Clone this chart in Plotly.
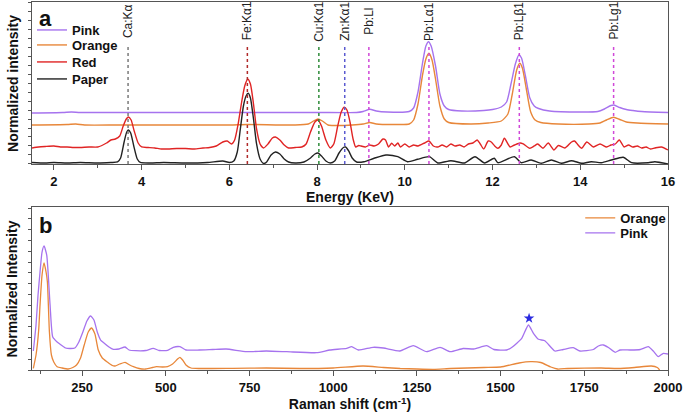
import plotly.graph_objects as go

# ---------------- Panel a : XRF spectra (energy keV, normalized intensity) ----------------
pink_E = [1.5, 2.2, 2.4, 2.6, 3.7, 6.4, 8.0, 8.9, 9.05, 9.2, 9.35, 9.6, 10.1, 10.2, 10.3, 10.4, 10.48, 10.54,
          10.6, 10.7, 10.8, 10.9, 11.0, 11.3, 11.8, 12.0, 12.2, 12.32, 12.42, 12.52, 12.6, 12.66, 12.75, 12.85,
          12.95, 13.05, 13.3, 14.0, 14.4, 14.55, 14.7, 14.77, 14.9, 15.05, 15.2, 15.4, 16.0]
pink_I = [51, 51.5, 52, 51.5, 51.5, 51.5, 51.5, 51.5, 52.5, 54.7, 53, 52, 52.5, 56, 72, 100, 118, 122.3,
          118, 98, 70, 58, 54.5, 53, 53.5, 54.5, 57, 62, 80, 100, 109, 106, 88, 66,
          58, 55.5, 53, 52, 52.5, 55, 58.5, 59, 56.5, 54.5, 53.5, 52.5, 51.5]

orange_E = [1.5, 2.3, 2.5, 2.7, 3.5, 6.0, 6.4, 7.5, 7.8, 7.92, 8.02, 8.12, 8.25, 8.4, 8.8, 9.05, 9.2, 9.35,
            9.8, 10.1, 10.2, 10.3, 10.4, 10.48, 10.55, 10.62, 10.7, 10.8, 10.9, 11.0, 11.5, 11.9, 12.2, 12.35,
            12.45, 12.55, 12.62, 12.68, 12.77, 12.87, 12.97, 13.1, 13.5, 14.2, 14.45, 14.6, 14.76, 14.9, 15.05,
            15.3, 16.0]
orange_I = [39, 39.5, 40, 39, 39, 39, 39.5, 39, 40, 43, 45, 43, 39, 38.5, 39, 40, 41.5, 40,
            39.5, 40, 44, 60, 88, 105, 110.7, 104, 85, 58, 45, 41.5, 40, 41, 43, 50,
            70, 94, 100.7, 96, 75, 52, 44, 41.5, 40, 40, 41, 44, 46.7, 44.5, 42,
            41, 40]

red_E = [1.5, 1.65, 1.8, 2.0, 2.15, 2.3, 2.45, 2.6, 2.8, 3.0, 3.2, 3.3, 3.4, 3.5, 3.58, 3.65, 3.7, 3.76, 3.83,
         3.92, 4.0, 4.15, 4.3, 4.45, 4.6, 4.8, 5.0, 5.2, 5.4, 5.55, 5.7, 5.85, 5.95, 6.05, 6.12, 6.2, 6.28,
         6.35, 6.42, 6.48, 6.55, 6.62, 6.7, 6.78, 6.88, 6.98, 7.05, 7.15, 7.25, 7.35, 7.5, 7.65, 7.75, 7.85,
         7.95, 8.02, 8.1, 8.2, 8.3, 8.38, 8.47, 8.55, 8.62, 8.68, 8.75, 8.82, 8.88, 8.95, 9.0, 9.1, 9.2,
         9.3, 9.4, 9.5, 9.56, 9.63, 9.7, 9.77, 9.84, 9.9, 10.0, 10.1, 10.2, 10.3, 10.45, 10.55, 10.65, 10.75,
         10.85, 10.95, 11.05, 11.15, 11.25, 11.35, 11.45, 11.55, 11.65, 11.72, 11.8, 11.9, 11.97, 12.05,
         12.12, 12.2, 12.27, 12.4, 12.5, 12.63, 12.7, 12.85, 12.95, 13.03, 13.15, 13.27, 13.4, 13.5, 13.65,
         13.8, 13.87, 13.95, 14.03, 14.15, 14.3, 14.45, 14.6, 14.7, 14.8, 14.89, 15.0, 15.1, 15.2, 15.3,
         15.4, 15.5, 15.6, 15.7, 15.85, 16.0]
red_I = [16, 17, 17.5, 18, 17, 17, 16.5, 16.5, 17, 17, 21, 24, 25, 28, 38, 45, 47, 44, 33,
         21, 17, 16.5, 16, 15, 15, 15.5, 15.5, 15, 16, 16.5, 18, 22, 23, 20, 24, 40, 62,
         78, 84.7, 80, 60, 35, 20, 16, 20, 26, 27, 24, 19, 16, 16.5, 17, 20, 32,
         42, 44, 38, 24, 16, 20, 38, 52, 56.7, 54, 42, 25, 17, 18.5, 18, 17, 19,
         18, 20, 25, 24, 17, 20.7, 18, 21, 17, 20, 17, 19, 18, 21, 23, 18, 17,
         19, 17, 20, 18, 19, 17, 20, 21, 24, 20, 15, 23, 22, 18,
         15.7, 19, 25.7, 17, 19, 21, 20, 15.7, 18, 20, 15.7, 21, 14, 18.5, 16,
         22, 23, 19, 15.7, 22, 17, 20, 17, 19, 20, 24, 17, 19, 17, 18,
         16, 17, 15, 16, 17, 14]

paper_E = [1.5, 1.8, 2.0, 2.3, 2.6, 3.0, 3.3, 3.45, 3.52, 3.6, 3.66, 3.7, 3.75, 3.82, 3.9, 3.97, 4.2, 4.5,
           5.0, 5.5, 5.85, 6.0, 6.1, 6.18, 6.25, 6.32, 6.38, 6.43, 6.48, 6.55, 6.62, 6.7, 6.78, 6.85, 6.95,
           7.05, 7.15, 7.25, 7.35, 7.5, 7.7, 7.85, 7.95, 8.02, 8.1, 8.2, 8.3, 8.4, 8.5, 8.6, 8.65, 8.72, 8.8,
           8.9, 9.07, 9.3, 9.57, 9.84, 10.06, 10.29, 10.56, 10.75, 11.05, 11.36, 11.6, 11.82, 12.04, 12.12,
           12.5, 12.65, 12.88, 13.11, 13.34, 13.57, 13.8, 14.03, 14.25, 14.48, 14.71, 14.98, 15.17, 15.55,
           15.7, 16.0]
paper_I = [1.5, 1, 1.5, 1, 1.5, 1, 1.5, 2, 6, 22, 32, 34, 31, 18, 5, 1.5, 1, 1.5,
           1, 1.5, 3, 1.5, 3, 12, 35, 58, 68, 70.7, 66, 45, 20, 5, 0.5, 2, 9,
           12, 10, 5, 2, 1, 2, 6, 10, 11, 8, 3, 1, 3, 11, 16.5, 17, 13, 6,
           2, 2.3, 5.7, 9, 7.3, 2.3, 4.7, 7.3, 1, 3.3, 1, 7.3, 1, 5.7, 1.3,
           7.3, 1.3, 4, 0.7, 4, 0.7, 3.3, 0.7, 2.3, 1.3, 4, 6.7, 1.3, 1.3,
           2.3, 0]

line_labels = ["Ca:K\u03b1", "Fe:K\u03b11", "Cu:K\u03b11", "Zn:K\u03b11", "Pb:Ll", "Pb:L\u03b11", "Pb:L\u03b21", "Pb:Lg1"]
line_energies = [3.69, 6.41, 8.04, 8.63, 9.18, 10.55, 12.61, 14.76]
line_colors = ["#7a7a7a", "#b02a2a", "#2e8b3a", "#5a5ad0", "#d048d8", "#d048d8", "#d048d8", "#d048d8"]
line_top = 119
label_y = 143

# ---------------- Panel b : Raman spectra ----------------
r_pink_x = [104, 112, 118, 124, 130, 136, 144, 154, 162, 175, 184, 200, 215, 228, 240, 252, 264, 275, 285,
            295, 305, 315, 330, 343, 360, 378, 390, 410, 440, 462, 480, 505, 522, 542, 560, 600, 640, 680,
            741, 800, 861, 950, 990, 1040, 1055, 1075, 1119, 1150, 1199, 1239, 1279, 1319, 1350, 1388, 1420,
            1458, 1480, 1518, 1535, 1563, 1583, 1598, 1613, 1632, 1662, 1687, 1717, 1737, 1777, 1792, 1807,
            1822, 1842, 1857, 1887, 1917, 1941, 1956, 1971, 1986, 2000]
r_pink_y = [19, 45, 75, 98, 118, 124, 115, 65, 33, 28, 25.7, 22, 21.5, 22, 28, 38, 49, 54, 50,
            38, 30, 27, 23, 20.7, 21, 23, 20, 19.3, 19.5, 21.7, 19.5, 19.7, 22.7, 23.3, 20, 20, 20.5, 21,
            18.3, 19, 18.3, 17.3, 20, 21.7, 23.3, 20, 22.7, 22, 19, 24.3, 18.3, 22.7, 18.3, 21.5, 21,
            24.3, 20.5, 20, 23, 31.7, 45, 36.7, 30.7, 29.3, 19, 20.5, 22.3, 19, 20.5, 24, 25,
            22.5, 17.7, 20, 20, 20.5, 23.3, 19, 13.3, 16.7, 16]

r_orange_x = [104, 112, 120, 124, 130, 136, 142, 146, 152, 158, 165, 175, 190, 208, 222, 233, 245, 256, 268,
              278, 288, 298, 310, 325, 340, 348, 362, 378, 392, 403, 420, 440, 460, 472, 490, 505, 520, 535,
              542, 550, 560, 575, 600, 700, 800, 900, 1000, 1089, 1150, 1200, 1250, 1300, 1350, 1450, 1500,
              1555, 1590, 1620, 1650, 1670, 1700, 1800, 1850, 1900, 1950, 1968, 1975]
r_orange_y = [1.7, 15, 40, 65, 95, 107, 98, 88, 38, 15, 8, 3.3, 2, 1, 2.5, 5, 12, 25, 38,
              42, 36, 20, 12, 8, 4.5, 4, 6, 7.7, 5, 3.3, 1.5, 1, 2.5, 3.3, 3, 3.5, 6, 11,
              12.7, 10, 5, 2, 1.5, 1.7, 2, 1.5, 2, 4, 2.5, 1.5, 1, 0.7, 1.5, 2.5, 3,
              7, 8.3, 7.5, 3, 1, 1.5, 2, 1.5, 2.5, 4, 2.5, 0]

star_x = [1585]
star_y = [51.7]

# ---------------- Figure ----------------
PINK = "#a673ee"
ORANGE = "#e8873a"
RED = "#e02424"
BLACK = "#222222"
FONT = "Liberation Sans, Arial, sans-serif"
legfont = dict(family=FONT, size=13, color="#111", weight="bold")

fig = go.Figure()
top_series = [("Pink", pink_E, pink_I, PINK, "legend"), ("Orange", orange_E, orange_I, ORANGE, "legend3"),
              ("Red", red_E, red_I, RED, "legend4"), ("Paper", paper_E, paper_I, BLACK, "legend5")]
for name, xs, ys, col, leg in top_series:
    fig.add_trace(go.Scatter(x=xs, y=ys, name=name, mode="lines",
                             line=dict(color=col, width=1.4, shape="spline", smoothing=0.6),
                             xaxis="x", yaxis="y", legend=leg))

fig.add_trace(go.Scatter(x=r_orange_x, y=r_orange_y, name="Orange", mode="lines", line=dict(color=ORANGE, width=1.3, shape="spline", smoothing=0.5), xaxis="x2", yaxis="y2", legend="legend2"))
fig.add_trace(go.Scatter(x=r_pink_x, y=r_pink_y, name="Pink", mode="lines", line=dict(color=PINK, width=1.3, shape="spline", smoothing=0.5), xaxis="x2", yaxis="y2", legend="legend6"))
fig.add_trace(go.Scatter(x=star_x, y=star_y, mode="markers", showlegend=False, marker=dict(symbol="star", size=8, color="#2a2ae0"), xaxis="x2", yaxis="y2"))

for lab, e, c in zip(line_labels, line_energies, line_colors):
    fig.add_shape(type="line", xref="x", yref="y", x0=e, x1=e, y0=0, y1=line_top,
                  line=dict(color=c, width=1.5, dash="dot"), layer="above")
    fig.add_annotation(x=e, y=label_y, xref="x", yref="y", text=lab, textangle=-90, showarrow=False,
                       xanchor="center", yanchor="middle", font=dict(family=FONT, size=12, color="#222"))

fig.add_annotation(text="a", xref="paper", yref="paper", x=0.008, y=0.995, xanchor="left", yanchor="top",
                   showarrow=False, font=dict(family=FONT, size=22, color="#111", weight="bold"))
fig.add_annotation(text="b", xref="paper", yref="paper", x=0.008, y=0.432, xanchor="left", yanchor="top",
                   showarrow=False, font=dict(family=FONT, size=22, color="#111", weight="bold"))
fig.add_annotation(text="Normalized intensity", xref="paper", yref="paper", x=-0.0299, y=0.7799,
                   xanchor="center", yanchor="middle", textangle=-90, showarrow=False,
                   font=dict(family=FONT, size=14, color="#111", weight="bold"))
fig.add_annotation(text="Normalized Intensity", xref="paper", yref="paper", x=-0.0299, y=0.2215,
                   xanchor="center", yanchor="middle", textangle=-90, showarrow=False,
                   font=dict(family=FONT, size=14, color="#111", weight="bold"))

axis_common = dict(showline=True, linecolor="#555", linewidth=1, mirror=True, showgrid=False, zeroline=False,
                   ticks="outside", tickcolor="#555")
tickfont = dict(family=FONT, size=13, color="#111", weight="bold")
titlefont = dict(family=FONT, size=14, color="#111", weight="bold")

def leg(x, y):
    return dict(x=x, y=y, xanchor="left", yanchor="middle", bgcolor="rgba(0,0,0,0)", font=legfont,
                itemwidth=30, borderwidth=0)

top_leg_x = 0.0
bot_leg_x = 0.862
fig.update_layout(
    width=685, height=417,
    margin=dict(l=32, r=17, t=2, b=47),
    paper_bgcolor="white", plot_bgcolor="white",
    xaxis=dict(domain=[0, 1], anchor="y", range=[1.5, 16], tick0=0, dtick=2, ticklen=5,
               minor=dict(dtick=1, ticklen=3, ticks="outside", tickcolor="#555"),
               tickfont=tickfont, title=dict(text="Energy (KeV)", font=titlefont, standoff=4), **axis_common),
    yaxis=dict(domain=[0.5598, 1], anchor="x", range=[0, 162], tick0=0, dtick=9, ticklen=3,
               showticklabels=False, **axis_common),
    xaxis2=dict(domain=[0, 1], anchor="y2", range=[100, 2000], tick0=0, dtick=250, ticklen=5,
                minor=dict(dtick=125, ticklen=3, ticks="outside", tickcolor="#555"),
                tickfont=tickfont, title=dict(text="Raman shift (cm<sup>-1</sup>)", font=titlefont, standoff=4), **axis_common),
    yaxis2=dict(domain=[0, 0.4429], anchor="x2", range=[0, 163], tick0=0, dtick=10.8, ticklen=3,
                showticklabels=False, **axis_common),
    legend=leg(top_leg_x, 0.9239),
    legend3=leg(top_leg_x, 0.8832),
    legend4=leg(top_leg_x, 0.8370),
    legend5=leg(top_leg_x, 0.7908),
    legend2=leg(bot_leg_x, 0.4130),
    legend6=leg(bot_leg_x, 0.3723),
    showlegend=True,
)

fig.write_html("out.html", config={"displayModeBar": False},
               post_script="document.body.style.margin='0';document.body.style.overflow='hidden';")
